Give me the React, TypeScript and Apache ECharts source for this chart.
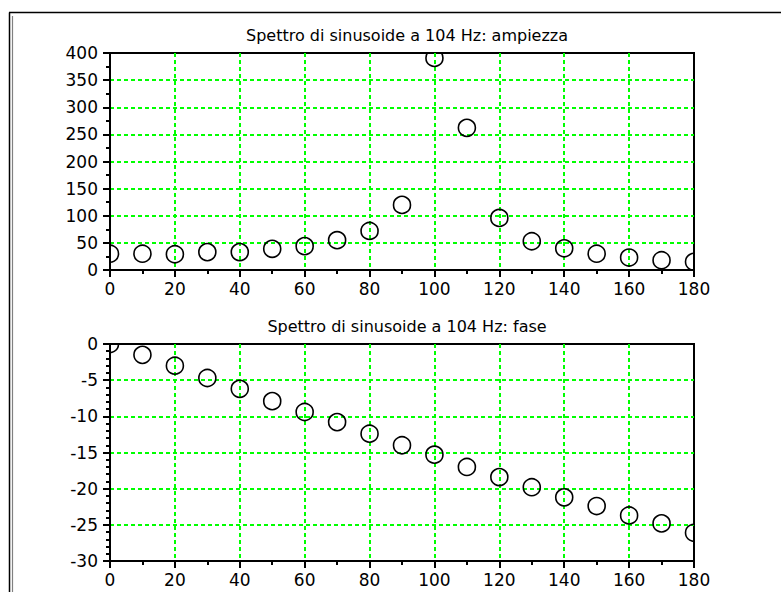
import React, { useEffect, useRef } from "react";
import * as echarts from "echarts";

const freqs = [0, 10, 20, 30, 40, 50, 60, 70, 80, 90, 100, 110, 120, 130, 140, 150, 160, 170, 180];
const amplitude = [30, 30, 29, 33, 33, 39, 44, 55, 72, 120, 391, 262, 96, 53, 40, 30, 23, 18, 15];
const phase = [0, -1.5, -3.0, -4.7, -6.2, -7.9, -9.4, -10.8, -12.4, -14.0, -15.3, -17.0, -18.4, -19.8, -21.2, -22.4, -23.7, -24.8, -26.1];
const titleTop = "Spettro di sinusoide a 104 Hz: ampiezza";
const titleBottom = "Spettro di sinusoide a 104 Hz: fase";

const FONT = "DejaVu Sans";

function xAxisCfg(gridIndex: number) {
  return {
    type: "value",
    gridIndex,
    min: 0,
    max: 180,
    interval: 20,
    axisLine: { show: true, onZero: false, lineStyle: { color: "#000", width: 2 } },
    axisTick: { show: true, inside: false, length: 7, lineStyle: { color: "#000", width: 2 } },
    minorTick: { show: true, splitNumber: 2, length: 4, lineStyle: { color: "#000", width: 2 } },
    axisLabel: { color: "#000", fontSize: 17, fontFamily: FONT, margin: 10 },
    splitLine: {
      show: true,
      showMinLine: false,
      showMaxLine: false,
      lineStyle: { color: "#00ff00", width: 2, type: [4, 3] },
    },
  };
}

function yAxisCfg(gridIndex: number, min: number, max: number, interval: number, minorSplit: number) {
  return {
    type: "value",
    gridIndex,
    min,
    max,
    interval,
    axisLine: { show: true, onZero: false, lineStyle: { color: "#000", width: 2 } },
    axisTick: { show: true, inside: false, length: 7, lineStyle: { color: "#000", width: 2 } },
    minorTick: { show: true, splitNumber: minorSplit, length: 4, lineStyle: { color: "#000", width: 2 } },
    axisLabel: { color: "#000", fontSize: 17, fontFamily: FONT, margin: 12 },
    splitLine: {
      show: true,
      showMinLine: false,
      showMaxLine: false,
      lineStyle: { color: "#00ff00", width: 2, type: [4, 3] },
    },
  };
}

function circleItem(params: any, api: any) {
  const p = api.coord([api.value(0), api.value(1)]);
  return {
    type: "circle",
    shape: { cx: p[0], cy: p[1], r: 8.5 },
    style: { fill: "none", stroke: "#000", lineWidth: 1.6 },
  };
}

export default function App() {
  const ref = useRef<HTMLDivElement>(null);
  useEffect(() => {
    if (!ref.current) return;
    const chart = echarts.init(ref.current, null, { renderer: "svg" });
    chart.setOption({
      animation: false,
      backgroundColor: "#fff",
      title: [
        {
          text: titleTop,
          left: 402,
          top: 22,
          textAlign: "center",
          textStyle: { fontFamily: FONT, fontSize: 16, fontWeight: "normal", color: "#000" },
        },
        {
          text: titleBottom,
          left: 402,
          top: 313,
          textAlign: "center",
          textStyle: { fontFamily: FONT, fontSize: 16, fontWeight: "normal", color: "#000" },
        },
      ],
      grid: [
        { left: 110, top: 53, width: 584, height: 217, show: true, borderColor: "#000", borderWidth: 2, backgroundColor: "transparent" },
        { left: 110, top: 344, width: 584, height: 217, show: true, borderColor: "#000", borderWidth: 2, backgroundColor: "transparent" },
      ],
      xAxis: [xAxisCfg(0), xAxisCfg(1)],
      yAxis: [yAxisCfg(0, 0, 400, 50, 2), yAxisCfg(1, -30, 0, 5, 5)],
      series: [
        {
          type: "custom",
          xAxisIndex: 0,
          yAxisIndex: 0,
          clip: true,
          renderItem: circleItem,
          data: freqs.map((f, i) => [f, amplitude[i]]),
        },
        {
          type: "custom",
          xAxisIndex: 1,
          yAxisIndex: 1,
          clip: true,
          renderItem: circleItem,
          data: freqs.map((f, i) => [f, phase[i]]),
        },
      ],
      graphic: [
        { type: "line", shape: { x1: 9.5, y1: 12.5, x2: 9.5, y2: 592 }, style: { stroke: "#000", lineWidth: 1.5 } },
        { type: "line", shape: { x1: 9, y1: 12.5, x2: 781, y2: 12.5 }, style: { stroke: "#000", lineWidth: 1.5 } },
        { type: "line", shape: { x1: 12.5, y1: 16, x2: 12.5, y2: 592 }, style: { stroke: "#808080", lineWidth: 1.2 } },
      ],
    });
    return () => chart.dispose();
  }, []);
  return (
    <div
      ref={ref}
      style={{ position: "fixed", left: 0, top: 0, width: 781, height: 592, background: "#fff" }}
    />
  );
}
